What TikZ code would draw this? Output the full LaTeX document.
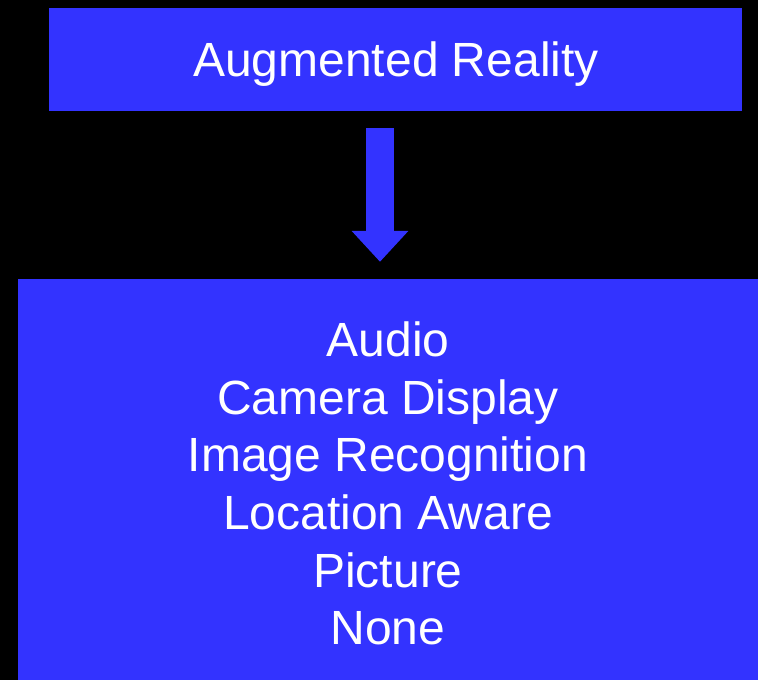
\documentclass[tikz,border=0pt]{standalone}
\usepackage{fontspec}
\setmainfont{Liberation Sans}
\usetikzlibrary{arrows.meta}
\definecolor{boxblue}{HTML}{3333FF}
\begin{document}
\begin{tikzpicture}[x=1pt,y=-1pt,
  bluebox/.style={fill=boxblue,draw=none,inner sep=0pt,text=white,align=center,
    font=\fontsize{48}{57.6}\selectfont}]
\fill[black] (0,0) rectangle (758,680);
\useasboundingbox (0,0) rectangle (758,680);
\node[bluebox,minimum width=693pt,minimum height=103pt] (ar) at (395.5,59.5) {};
\node[text=white,font=\fontsize{48}{57.6}\selectfont] (art) at (396,64) {Augmented Reality};
\node[bluebox,minimum width=740pt,minimum height=401pt] (list) at (388,479.5) {};
\node[text=white,align=center,font=\fontsize{48}{57.6}\selectfont] (listt) at (388,483.5)
  {Audio\\Camera Display\\Image Recognition\\Location Aware\\Picture\\None};
\draw[boxblue,line width=28pt,shorten <=17pt,shorten >=17pt,
  -{Triangle[width=55pt,length=31pt]}] (ar.south -| 380,0) -- (list.north -| 380,0);
\end{tikzpicture}
\end{document}
